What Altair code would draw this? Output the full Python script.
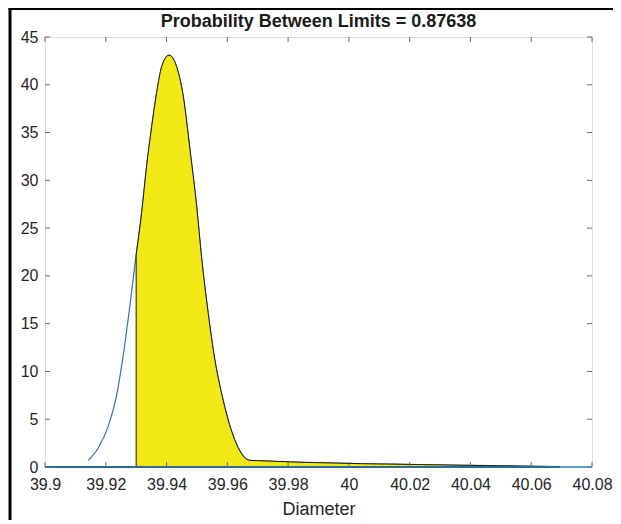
import altair as alt
import pandas as pd

# ---- data ----
curve_x = [39.9142, 39.9175, 39.9208, 39.9235, 39.9257, 39.9279, 39.9298, 39.9318,
           39.9334, 39.9351, 39.9367, 39.9384, 39.9408, 39.9433, 39.9455, 39.9477,
           39.9499, 39.9515, 39.9537, 39.9559, 39.9581, 39.9603, 39.9636, 39.9674,
           40.0400, 40.0696]
curve_y = [0.69, 1.99, 4.25, 7.4, 11.6, 16.8, 21.7, 26.6,
           31.4, 35.6, 39.1, 41.9, 43.1, 41.9, 38.8, 33.2,
           27.3, 22.0, 16.1, 11.2, 7.7, 4.9, 2.0, 0.69,
           0.17, 0.03]
lower_limit = 39.93
lower_limit_y = 22.2
title_text = "Probability Between Limits = 0.87638"
x_label = "Diameter"
x_ticks = [39.9, 39.92, 39.94, 39.96, 39.98, 40.0, 40.02, 40.04, 40.06, 40.08]
y_ticks = [0, 5, 10, 15, 20, 25, 30, 35, 40, 45]
base_x = [39.9, 40.0696]
base_x2 = [40.0696, 40.08]
base_color = ["#2b6d92", "#5b9fd2"]

W, H = 547, 430
FONT = "Liberation Sans"

curve = pd.DataFrame({"x": curve_x, "y": curve_y})
fill_pts = [(lower_limit, lower_limit_y)] + [(a, b) for a, b in zip(curve_x, curve_y) if a > lower_limit]
fill = pd.DataFrame(fill_pts, columns=["x", "y"])
base = pd.DataFrame({"x": base_x, "x2": base_x2, "y": [0, 0], "c": base_color})
xt = pd.DataFrame({"x": x_ticks})
yt = pd.DataFrame({"y": y_ticks})

xscale = alt.Scale(domain=[39.9, 40.08], nice=False, zero=False)
yscale = alt.Scale(domain=[0, 45], nice=False, zero=False)
xaxis = alt.Axis(values=x_ticks, labelExpr="format(datum.value, '.2~f')", grid=False,
                 domain=False, ticks=False, tickSize=0, labelPadding=9, labelFontSize=16,
                 labelFont=FONT, labelColor="#262626", title=x_label, titleFont=FONT,
                 titleFontSize=18, titleFontWeight="normal", titleColor="#262626",
                 titlePadding=8, labelFlush=False)
yaxis = alt.Axis(values=y_ticks, grid=False, domain=False, ticks=False, tickSize=0,
                 labelPadding=7, labelFontSize=16, labelFont=FONT, labelColor="#262626",
                 title=None)

def X(f="x"):
    return alt.X(f, type="quantitative", scale=xscale, axis=xaxis)

def Y(f="y"):
    return alt.Y(f, type="quantitative", scale=yscale, axis=yaxis)

line = alt.Chart(curve).mark_line(color="#4266c4", strokeWidth=1.2, interpolate="monotone").encode(
    x=X(), y=Y())
area = alt.Chart(fill).mark_area(color="#f2e816", stroke="#1a1a1a", strokeWidth=1,
                                 interpolate="monotone", opacity=1).encode(x=X(), y=Y())
baseline = alt.Chart(base).mark_rule(strokeWidth=2).encode(
    x=X(), x2="x2:Q", y=Y(), color=alt.Color("c:N", scale=None))

tick_col = "#6a6a6a"
xt_bot = alt.Chart(xt).mark_rule(color=tick_col).encode(x=X(), y=alt.value(H), y2=alt.value(H - 5))
xt_top = alt.Chart(xt).mark_rule(color=tick_col).encode(x=X(), y=alt.value(0), y2=alt.value(5))
yt_l = alt.Chart(yt).mark_rule(color=tick_col).encode(y=Y(), x=alt.value(0), x2=alt.value(5))
yt_r = alt.Chart(yt).mark_rule(color=tick_col).encode(y=Y(), x=alt.value(W), x2=alt.value(W - 5))

title = alt.Chart(pd.DataFrame({"t": [title_text]})).mark_text(
    font=FONT, fontSize=18, fontWeight="bold", color="#1a1a1a", baseline="alphabetic",
    align="center").encode(x=alt.value(W / 2), y=alt.value(-10), text="t:N")

frame_l = alt.Chart(pd.DataFrame({"k": [0]})).mark_rule(color="black", strokeWidth=3).encode(
    x=alt.value(-35), y=alt.value(-29), y2=alt.value(H + 53))
frame_t = alt.Chart(pd.DataFrame({"k": [0]})).mark_rule(color="black", strokeWidth=2).encode(
    y=alt.value(-28), x=alt.value(-36.5), x2=alt.value(W + 25))

chart = alt.layer(line, area, baseline, xt_bot, xt_top, yt_l, yt_r, title, frame_l, frame_t).properties(
    width=W, height=H,
    autosize=alt.AutoSizeParams(type="none"),
    padding={"left": 37, "top": 29, "right": 21, "bottom": 53},
).configure_view(stroke="#6a6a6a", strokeWidth=1).configure(background="white")

chart.save("out.html", embed_options={"renderer": "svg", "actions": False})
